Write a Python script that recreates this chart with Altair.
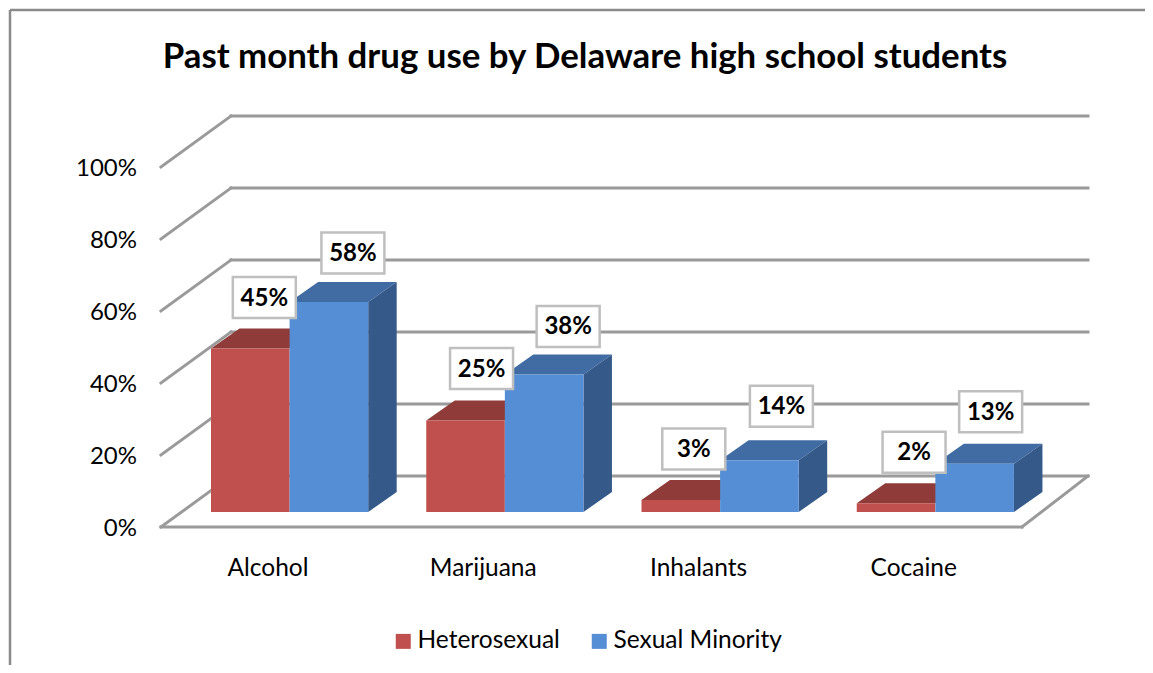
import altair as alt
import pandas as pd

# ---- values ----
categories = ["Alcohol", "Marijuana", "Inhalants", "Cocaine"]
heterosexual = [45.4, 25.4, 3.3, 2.4]
sexual_minority = [58.3, 38.2, 14.4, 13.4]
series_names = ["Heterosexual", "Sexual Minority"]
axis_ticks = [0, 20, 40, 60, 80, 100]
title_text = "Past month drug use by Delaware high school students"

# ---- layout: one x unit is one category, one y unit is one percent ----
W, H = 1137, 657
PX_X, PX_Y = 215.25, 3.6
ORIGIN_X, ORIGIN_Y = 268.0, 512.0  # page pixel of x=0 / y=0
FONT = "Lato"
def ux(px): return px / PX_X
def uy(px): return px / PX_Y
x_dom = [ux(8 - ORIGIN_X), ux(8 + W - ORIGIN_X)]
y_dom = [uy(ORIGIN_Y - 8 - H), uy(ORIGIN_Y - 8)]
X = lambda f="x": alt.X(f, type="quantitative", axis=None, scale=alt.Scale(domain=x_dom, range=[0, W], nice=False, zero=False))
Y = lambda f="y": alt.Y(f, type="quantitative", axis=None, scale=alt.Scale(domain=y_dom, range=[H, 0], nice=False, zero=False))

BAR_W = ux(78.6)
BAR_X0 = ux(211 - ORIGIN_X)
DEPTH_X, DEPTH_Y = ux(28.5), uy(20)
RED, RED_TOP = "#c0504d", "#8f3b39"
BLUE, BLUE_TOP, BLUE_SIDE = "#558ed5", "#416ca3", "#355a8a"
GRID = "#9a9a9a"

# ---- walls and floor ----
WALL_FLOOR = uy(512 - 476)          # back wall 0% above bar base
WALL_L, WALL_R = ux(231 - ORIGIN_X), ux(1088 - ORIGIN_X)
FRONT_L, FRONT_R = ux(161 - ORIGIN_X), ux(1022 - ORIGIN_X)
SKEW = uy(51)
rows = []
for t in axis_ticks:
    yb = t + WALL_FLOOR
    rows += [dict(s=f"b{t}", k=0, x=WALL_L, y=yb), dict(s=f"b{t}", k=1, x=WALL_R, y=yb)]
    rows += [dict(s=f"d{t}", k=0, x=FRONT_L, y=yb - SKEW), dict(s=f"d{t}", k=1, x=WALL_L, y=yb)]
floor = WALL_FLOOR - SKEW
rows += [dict(s="front", k=0, x=FRONT_L, y=floor), dict(s="front", k=1, x=FRONT_R, y=floor)]
rows += [dict(s="right", k=0, x=FRONT_R, y=floor), dict(s="right", k=1, x=WALL_R, y=WALL_FLOOR)]
walls = alt.Chart(pd.DataFrame(rows)).mark_line(color=GRID, strokeWidth=3, strokeCap="square").encode(
    x=X(), y=Y(), detail="s:N", order="k:Q")

# ---- bars ----
def top_face(i, x0, v):
    return [dict(b=i, x=x0, y=v, y2=v),
            dict(b=i, x=x0 + DEPTH_X, y=v + DEPTH_Y, y2=v),
            dict(b=i, x=x0 + BAR_W, y=v + DEPTH_Y, y2=v),
            dict(b=i, x=x0 + BAR_W + DEPTH_X, y=v + DEPTH_Y, y2=v + DEPTH_Y)]
def side_face(i, x0, v):
    xr = x0 + BAR_W
    return [dict(b=i, x=xr, y=v, y2=0), dict(b=i, x=xr + DEPTH_X, y=v + DEPTH_Y, y2=DEPTH_Y)]
def area_layer(rows, color):
    return alt.Chart(pd.DataFrame(rows)).mark_area(color=color, orient="vertical", strokeWidth=0).encode(
        x=X(), y=Y(), y2="y2:Q", detail="b:N")

red_x = [BAR_X0 + i * 1.0 for i in range(4)]
blue_x = [x + BAR_W for x in red_x]
red_top = area_layer([r for i in range(4) for r in top_face(i, red_x[i], heterosexual[i])], RED_TOP)
blue_top = area_layer([r for i in range(4) for r in top_face(i, blue_x[i], sexual_minority[i])], BLUE_TOP)
blue_side = area_layer([r for i in range(4) for r in side_face(i, blue_x[i], sexual_minority[i])], BLUE_SIDE)

front = pd.DataFrame(
    [dict(series=series_names[0], x=red_x[i], x2=red_x[i] + BAR_W, y=heterosexual[i], y0=0) for i in range(4)] +
    [dict(series=series_names[1], x=blue_x[i], x2=blue_x[i] + BAR_W, y=sexual_minority[i], y0=0) for i in range(4)])
fronts = alt.Chart(front).mark_rect(strokeWidth=0).encode(
    x=X(), x2="x2:Q", y=Y(), y2="y0:Q",
    color=alt.Color("series:N", scale=alt.Scale(domain=series_names, range=[RED, BLUE]),
                    legend=alt.Legend(title=None, orient="none", legendX=383, legendY=621, direction="horizontal",
                                      symbolType="square", symbolSize=225, symbolStrokeWidth=0,
                                      labelFont=FONT, labelFontSize=24.5, labelColor="#000000",
                                      labelOffset=2, columnPadding=27, labelLimit=300, padding=0)))

# ---- data labels in boxes: pixel offset of each label from its bar's top centre ----
BOX_W, BOX_H = ux(63), uy(41)
red_nudge = [(14, 51), (16, 52), (13, 51), (18, 51)]
blue_nudge = [(24, 49), (24, 48), (22, 54), (16, 52)]
lab = []
for i in range(4):
    lab.append(dict(x=red_x[i] + BAR_W / 2 + ux(red_nudge[i][0]), y=heterosexual[i] + uy(red_nudge[i][1]), t=f"{round(heterosexual[i])}%"))
    lab.append(dict(x=blue_x[i] + BAR_W / 2 + ux(blue_nudge[i][0]), y=sexual_minority[i] + uy(blue_nudge[i][1]), t=f"{round(sexual_minority[i])}%"))
lab = pd.DataFrame(lab)
lab["x1"], lab["x2"] = lab.x - BOX_W / 2, lab.x + BOX_W / 2
lab["y1"], lab["y2"] = lab.y - BOX_H / 2, lab.y + BOX_H / 2
boxes = alt.Chart(lab).mark_rect(fill="#ffffff", stroke="#bfbfbf", strokeWidth=2.5).encode(
    x=X("x1"), x2="x2:Q", y=Y("y1"), y2="y2:Q")
box_text = alt.Chart(lab).mark_text(font=FONT, fontWeight="bold", fontSize=24, dy=1, color="#000000").encode(
    x=X(), y=Y(), text="t:N")

# ---- axis texts and title ----
ticks = pd.DataFrame(dict(x=[ux(137 - ORIGIN_X)] * len(axis_ticks),
                          y=[t - uy(528.5 - ORIGIN_Y) for t in axis_ticks],
                          t=[f"{t}%" for t in axis_ticks]))
tick_text = alt.Chart(ticks).mark_text(font=FONT, fontSize=24, align="right", color="#000000").encode(x=X(), y=Y(), text="t:N")
cats = pd.DataFrame(dict(x=[i * 1.0 for i in range(4)], y=[uy(ORIGIN_Y - 569)] * 4, t=categories))
cat_text = alt.Chart(cats).mark_text(font=FONT, fontSize=24.5, color="#000000").encode(x=X(), y=Y(), text="t:N")
ttl = pd.DataFrame(dict(x=[ux(585 - ORIGIN_X)], y=[uy(ORIGIN_Y - 58)], t=[title_text]))
title = alt.Chart(ttl).mark_text(font=FONT, fontWeight="bold", fontSize=34.8, color="#000000").encode(x=X(), y=Y(), text="t:N")

# ---- outer frame ----
frame_left = alt.Chart(pd.DataFrame({"a": [0]})).mark_rule(color="#8a8a8a", strokeWidth=2.5).encode(
    x=alt.value(2), y=alt.value(2), y2=alt.value(H))
frame_top = alt.Chart(pd.DataFrame({"a": [0]})).mark_rule(color="#8a8a8a", strokeWidth=2.5).encode(
    y=alt.value(2), x=alt.value(2), x2=alt.value(W))

chart = alt.layer(frame_left, frame_top, walls, red_top, blue_top, blue_side, fronts,
                  boxes, box_text, tick_text, cat_text, title).resolve_scale(color="independent").properties(
    width=W, height=H, padding=0, autosize=alt.AutoSizeParams(type="none"),
    background="#ffffff").configure_view(stroke=None)

chart.save("out.html", embed_options={"renderer": "svg", "actions": False})
